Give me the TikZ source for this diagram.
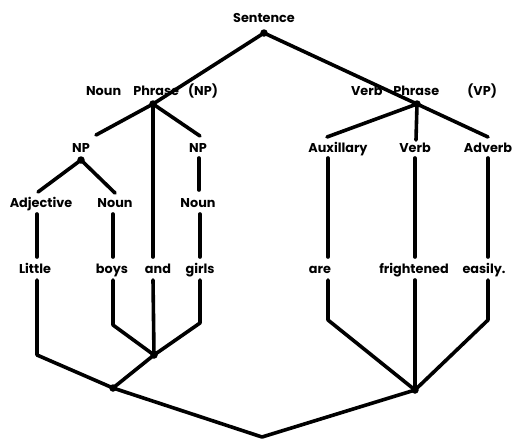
\documentclass[tikz,border=0pt]{standalone}
\usepackage{fontspec}
\setmainfont{Poppins}
\begin{document}
\begin{tikzpicture}[x=1pt,y=-1pt,
  br/.style={line width=3.6pt,line cap=round,line join=round},
  lbl/.style={font=\fontsize{12.8}{14}\selectfont\bfseries,inner sep=1pt,anchor=base},
  dot/.style={circle,fill,inner sep=0pt,minimum size=7.5pt}]
\useasboundingbox (0,0) rectangle (515,440);
% labels
\node[lbl] (sent) at (264,22) {Sentence};
\node[lbl] (nph) at (152,95) {Noun\hspace{0.95em}Phrase\hspace{0.7em}(NP)};
\node[lbl] (vph) at (424,95) {Verb\hspace{0.85em}Phrase\hspace{2.2em}(VP)};
\node[lbl] (npl) at (81,152) {NP};
\node[lbl] (npr) at (198,152) {NP};
\node[lbl] (adj) at (41,207) {Adjective};
\node[lbl] (nounl) at (115,207) {Noun};
\node[lbl] (nounr) at (198,207) {Noun};
\node[lbl] (aux) at (338,152) {Auxillary};
\node[lbl] (verb) at (415,152) {Verb};
\node[lbl] (adv) at (488,152) {Adverb};
\node[lbl] (little) at (35,273) {Little};
\node[lbl] (boys) at (112,273) {boys};
\node[lbl] (and) at (158,273) {and};
\node[lbl] (girls) at (200,273) {girls};
\node[lbl] (are) at (320,273) {are};
\node[lbl] (fright) at (414,273) {frightened};
\node[lbl] (easily) at (484,273) {easily.};
% junction points
\coordinate (s) at (264,33);
\coordinate (np) at (153,104);
\coordinate (vp) at (417,104);
\coordinate (npld) at (81,160);
\coordinate (j1) at (154,355);
\coordinate (j2) at (113,388);
\coordinate (j3) at (415,390);
\coordinate (bot) at (262,437);
% free ends
\coordinate (e1) at (96,135);
\coordinate (e2) at (200,136);
\coordinate (e3) at (38,192);
\coordinate (e4) at (115,193);
\coordinate (e5) at (199,158);
\coordinate (e6) at (199,190);
\coordinate (e7) at (327,137);
\coordinate (e8) at (488,137);
\coordinate (e9) at (416,140);
\foreach \n in {s,np,vp,npld,j1,j2,j3} \node[dot] at (\n) {};
\draw[br] (np) -- (s) -- (vp);
\draw[br] (e1) -- (np) -- (e2);
\draw[br] (np) -- (153,257);
\draw[br] (e3) -- (npld) -- (e4);
\draw[br] (e5) -- (e6);
\draw[br] (e7) -- (vp) -- (e8);
\draw[br] (vp) -- (e9);
% verticals between rows
\draw[br] (37,214) -- (37,257);
\draw[br] (113,214) -- (113,257);
\draw[br] (200,214) -- (200,257);
\draw[br] (328,158) -- (328,257);
\draw[br] (415,158) -- (415,257);
\draw[br] (488,158) -- (488,257);
% lower structure
\draw[br] (37,280) -- (37,355) -- (j2);
\draw[br] (113,280) -- (113,325) -- (j1);
\draw[br] (200,280) -- (200,323) -- (j1);
\draw[br] (153,280) -- (j1);
\draw[br] (j1) -- (j2) -- (bot) -- (j3);
\draw[br] (328,280) -- (328,320) -- (j3);
\draw[br] (415,280) -- (j3);
\draw[br] (488,280) -- (488,320) -- (j3);
\end{tikzpicture}
\end{document}
